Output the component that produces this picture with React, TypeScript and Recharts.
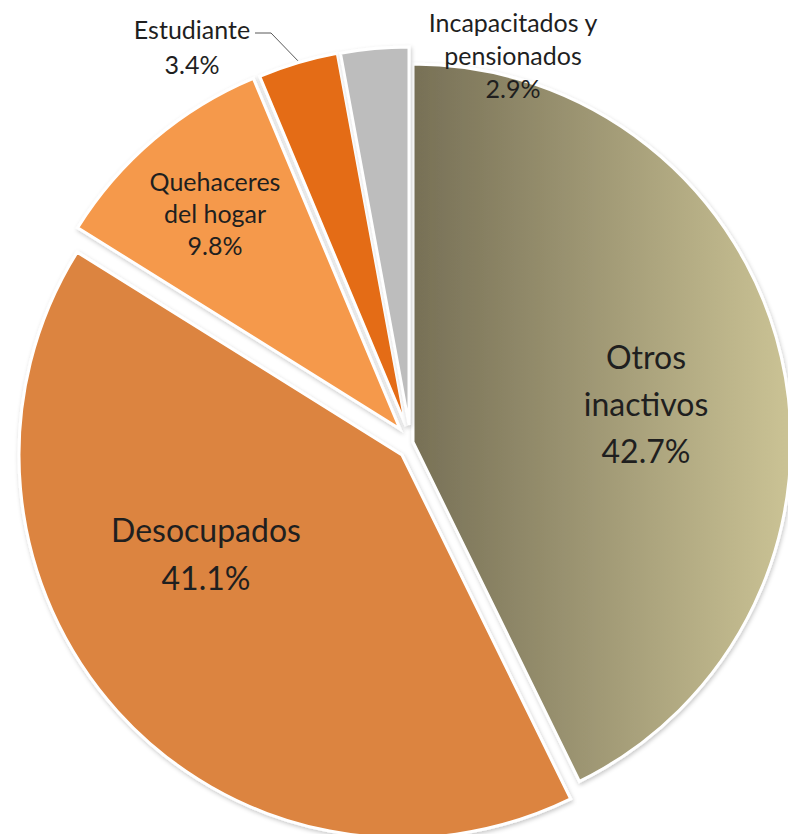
import React from "react";
import { PieChart, Pie, Cell } from "recharts";

const categories = [
  "Otros inactivos",
  "Desocupados",
  "Quehaceres del hogar",
  "Estudiante",
  "Incapacitados y pensionados",
];
const values = [42.7, 41.1, 9.8, 3.4, 2.9];
const labelLines = [
  ["Otros", "inactivos"],
  ["Desocupados"],
  ["Quehaceres", "del hogar"],
  ["Estudiante"],
  ["Incapacitados y", "pensionados"],
];

const fills = ["url(#otrosGrad)", "#dc843f", "#f5994c", "#e46c12", "#bdbdbd"];

// each slice is pulled out a little, like the exploded Excel pie
const centers = [
  { cx: 408, cy: 437, r: 378 },
  { cx: 397, cy: 450, r: 383 },
  { cx: 395, cy: 424, r: 380 },
  { cx: 401, cy: 421, r: 379 },
  { cx: 404, cy: 420, r: 378 },
];
// label anchor relative to the slice centre
const labelSpots = [
  { dx: 233, dy: -86, size: 32, gap: 47 },
  { dx: -196, dy: 74, size: 32, gap: 48 },
  { dx: -185, dy: -248, size: 25, gap: 32 },
  { dx: -214, dy: -397, size: 25, gap: 35 },
  { dx: 104, dy: -403, size: 25, gap: 33 },
];

const data = categories.map((name, i) => ({ name, value: values[i] }));
const FONT = "Lato, 'Open Sans', sans-serif";
const RAD = Math.PI / 180;

const makeLabel = (slice: number) => (props: any) => {
  if (props.index !== slice) return <g />;
  const { cx, cy, midAngle, outerRadius, value } = props;
  const spot = labelSpots[slice];
  const x = cx + spot.dx;
  const y = cy + spot.dy;
  const lines = [...labelLines[slice], `${Number(value).toFixed(1)}%`];
  let leader = null;
  if (slice === 3) {
    const ex = cx + outerRadius * Math.cos(-midAngle * RAD);
    const ey = cy + outerRadius * Math.sin(-midAngle * RAD);
    leader = (
      <polyline
        points={`${x + 63},${y + 4} ${x + 79},${y + 4} ${ex},${ey - 2}`}
        fill="none"
        stroke="#595959"
        strokeWidth={1}
      />
    );
  }
  return (
    <g>
      {leader}
      {lines.map((t, k) => (
        <text
          key={k}
          x={x}
          y={y + k * spot.gap}
          textAnchor="middle"
          dominantBaseline="central"
          fontFamily={FONT}
          fontSize={spot.size}
          fill="#1f1f1f"
        >
          {t}
        </text>
      ))}
    </g>
  );
};

export default function App() {
  return (
    <div style={{ position: "absolute", left: 0, top: 0, background: "#fff" }}>
      <PieChart width={788} height={834}>
        <defs>
          <linearGradient id="otrosGrad" x1="0" y1="0" x2="1" y2="0">
            <stop offset="0%" stopColor="#777056" />
            <stop offset="100%" stopColor="#cbc395" />
          </linearGradient>
          <filter id="sliceShadow" x="-10%" y="-10%" width="120%" height="120%">
            <feDropShadow dx="1" dy="2" stdDeviation="2" floodColor="#000" floodOpacity="0.22" />
          </filter>
        </defs>
        {centers.map((c, slice) => (
          <Pie
            key={slice}
            data={data}
            dataKey="value"
            nameKey="name"
            cx={c.cx}
            cy={c.cy}
            outerRadius={c.r}
            startAngle={90}
            endAngle={-270}
            isAnimationActive={false}
            labelLine={false}
            label={makeLabel(slice)}
          >
            {data.map((_, i) => (
              <Cell
                key={i}
                fill={i === slice ? fills[i] : "none"}
                stroke={i === slice ? "#ffffff" : "none"}
                strokeWidth={i === slice ? 3 : 0}
                style={i === slice ? { filter: "url(#sliceShadow)" } : undefined}
              />
            ))}
          </Pie>
        ))}
      </PieChart>
    </div>
  );
}
